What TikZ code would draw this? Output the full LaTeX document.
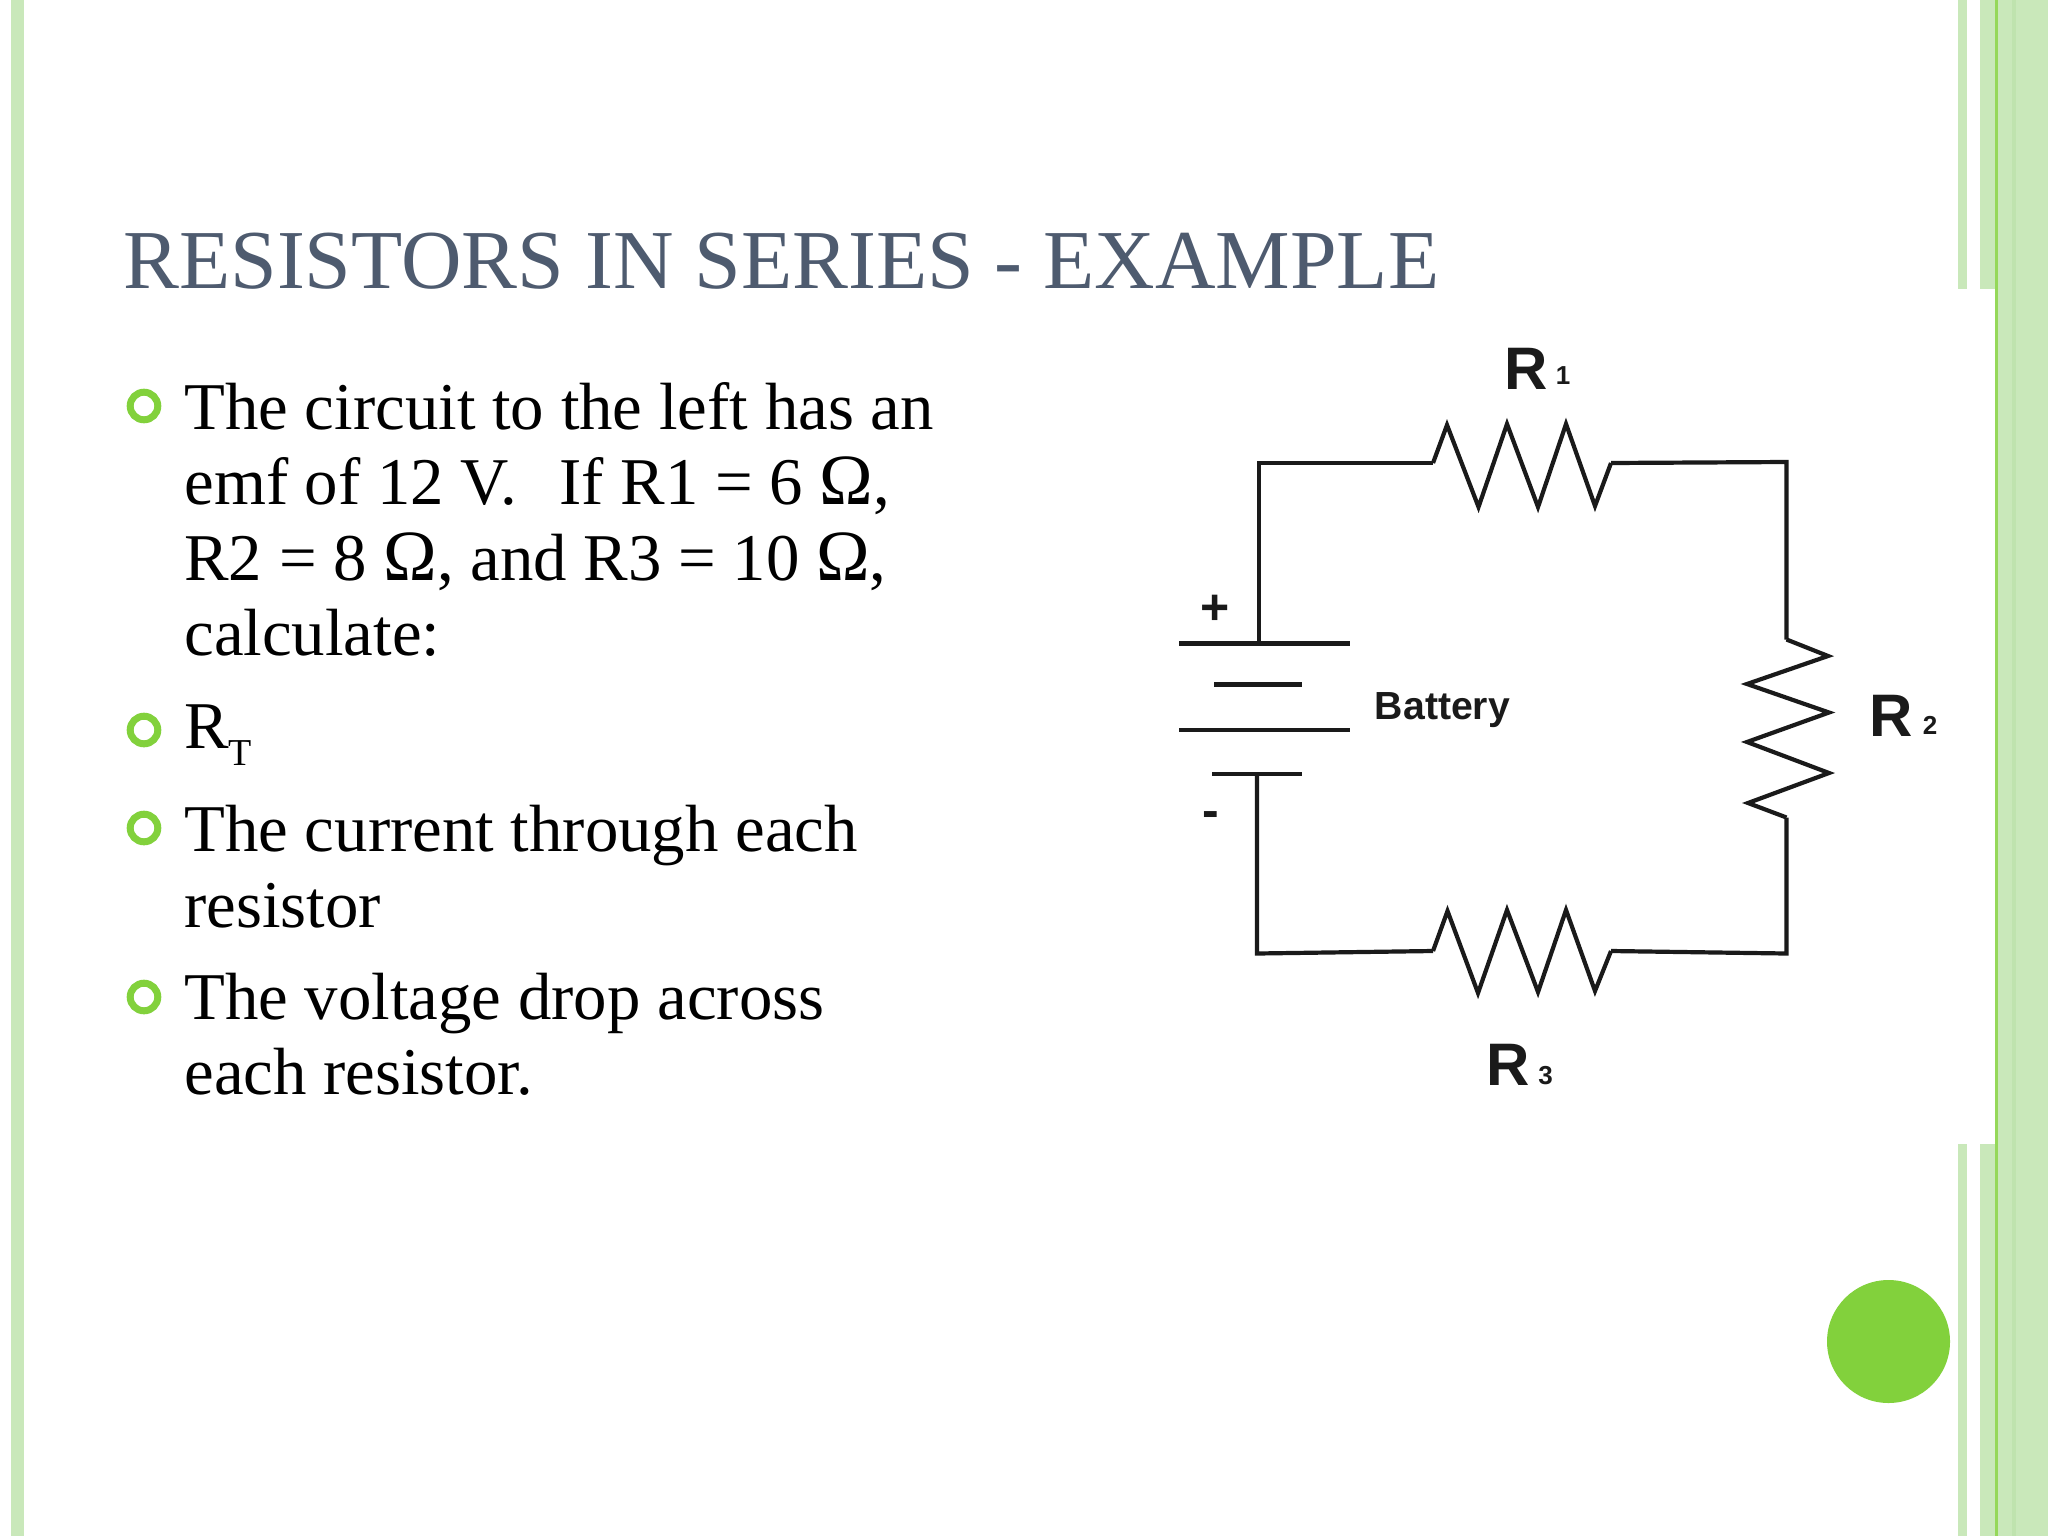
\documentclass[tikz,border=0pt]{standalone}
\usepackage{fontspec}
\usepackage{graphicx}
\setmainfont{Liberation Serif}
\setsansfont{Liberation Sans}
\definecolor{stripegreen}{HTML}{C9E8BA}
\definecolor{darkstripe}{HTML}{BFE3AE}
\definecolor{accentgreen}{HTML}{82D13C}
\definecolor{titleslate}{HTML}{4E5B6F}
\definecolor{wireblack}{HTML}{1A1A1A}
\newcommand{\ohmsign}{\scalebox{1.08}{Ω}}
\begin{document}
\begin{tikzpicture}[x=0.5pt, y=-0.5pt,
    body node/.style={anchor=base west, inner sep=0pt, font=\fontsize{33.4}{38}\selectfont, text=black},
    title node/.style={anchor=base west, inner sep=0pt, font=\fontsize{41.9}{48}\selectfont, text=titleslate},
    bullet node/.style={circle, draw=accentgreen, line width=3.5pt, fill=white, minimum size=13.8pt, inner sep=0pt},
    wire/.style={draw=wireblack, line width=2.1pt, line join=miter},
    big label/.style={inner sep=0pt, font=\sffamily\bfseries\fontsize{30}{30}\selectfont, text=wireblack},
    small label/.style={inner sep=0pt, font=\sffamily\bfseries\fontsize{13}{13}\selectfont, text=wireblack},
    sign label/.style={inner sep=0pt, font=\sffamily\bfseries\fontsize{25}{25}\selectfont, text=wireblack}]

    \useasboundingbox (0,0) rectangle (2048,1536);
    \fill[white] (0,0) rectangle (2048,1536);

    % Stripes
    \fill[stripegreen] (11,0) rectangle (24,1536);
    \fill[stripegreen] (1958,0) rectangle (1967,289);
    \fill[stripegreen] (1980,0) rectangle (1995,289);
    \fill[stripegreen] (1958,1144) rectangle (1967,1536);
    \fill[stripegreen] (1980,1144) rectangle (1995,1536);
    \fill[stripegreen] (1998,0) rectangle (2048,1536);
    \fill[darkstripe] (2012,0) rectangle (2016,1536);
    \fill[accentgreen!85!white] (1995,0) rectangle (1998,1536);

    % Corner dot
    \node[circle, fill=accentgreen, minimum size=61.5pt, inner sep=0pt] (dot) at (1888.5,1341.5) {};

    % Title
    \node[title node] (title) at (123,288) {RESISTORS IN SERIES - EXAMPLE};

    % Bullets
    \node[bullet node] (b1) at (144,406) {};
    \node[bullet node] (b2) at (144,730) {};
    \node[bullet node] (b3) at (144,828) {};
    \node[bullet node] (b4) at (144,997) {};

    % Text
    \node[body node] (t1) at (184,429) {The circuit to the left has an};
    \node[body node] (t2) at (184,504) {emf of 12 V.\ \ \hspace{4.5pt}If R1 = 6 \ohmsign,};
    \node[body node] (t3) at (184,580) {R2 = 8 \ohmsign, and R3 = 10 \ohmsign,};
    \node[body node] (t4) at (184,655) {calculate:};
    \node[body node] (t5) at (184,748) {R\raisebox{-8.5pt}{\fontsize{19}{19}\selectfont T}};
    \node[body node] (t6) at (184,851) {The current through each};
    \node[body node] (t7) at (184,927) {resistor};
    \node[body node] (t8) at (184,1019) {The voltage drop across};
    \node[body node] (t9) at (184,1094) {each resistor.};

    % Circuit corners
    \coordinate (TL) at (1259,463);
    \coordinate (TR) at (1786.5,462);
    \coordinate (BR) at (1786.5,953.5);
    \coordinate (BL) at (1257,953.5);

    % Battery plates
    \coordinate (P1a) at (1179,643.5);
    \coordinate (P1b) at (1350,643.5);
    \coordinate (P1m) at (1259,643.5);
    \coordinate (P2a) at (1214,684.5);
    \coordinate (P2b) at (1302,684.5);
    \coordinate (P3a) at (1179,730);
    \coordinate (P3b) at (1350,730);
    \coordinate (P4a) at (1212,774);
    \coordinate (P4b) at (1302,774);
    \coordinate (P4m) at (1257,774);
    \draw[wire] (P1a) -- (P1b);
    \draw[wire] (P2a) -- (P2b);
    \draw[wire] (P3a) -- (P3b);
    \draw[wire] (P4a) -- (P4b);

    % Resistor ends
    \coordinate (R1a) at (1433,463);
    \coordinate (R1b) at (1611,463);
    \coordinate (R2a) at (1786.5,639.5);
    \coordinate (R2b) at (1786.5,817.5);
    \coordinate (R3a) at (1611,951);
    \coordinate (R3b) at (1433,951);

    % Wires
    \draw[wire] (P1m) -- (TL) -- (R1a);
    \draw[wire] (R1a) -- (1447,425) -- (1478.5,507) -- (1507,424) -- (1538,507) -- (1566,424) -- (1595,506) -- (R1b);
    \draw[wire] (R1b) -- (TR) -- (R2a);
    \draw[wire] (R2a) -- (1828,656) -- (1747,684) -- (1829,712.5) -- (1747,742) -- (1829,773) -- (1748,803) -- (R2b);
    \draw[wire] (R2b) -- (BR) -- (R3a);
    \draw[wire] (R3a) -- (1595,991) -- (1566,910) -- (1538,992) -- (1507,910) -- (1478,993) -- (1447.5,911) -- (R3b);
    \draw[wire] (R3b) -- (BL) -- (P4m);

    % Labels
    \node[big label] (R1) at (1526,369) {R};
    \node[small label] (n1) at (1563,376) {1};
    \node[big label] (R2) at (1891,716) {R};
    \node[small label] (n2) at (1930,725) {2};
    \node[big label] (R3) at (1508,1065) {R};
    \node[small label] (n3) at (1545.5,1076) {3};
    \node[sign label] (plus) at (1215,610) {+};
    \node[sign label] (minus) at (1211,820) {-};
    \node[inner sep=0pt, font=\sffamily\bfseries\fontsize{19.6}{19.6}\selectfont, text=wireblack] (battery) at (1442.5,710) {Battery};

\end{tikzpicture}
\end{document}
